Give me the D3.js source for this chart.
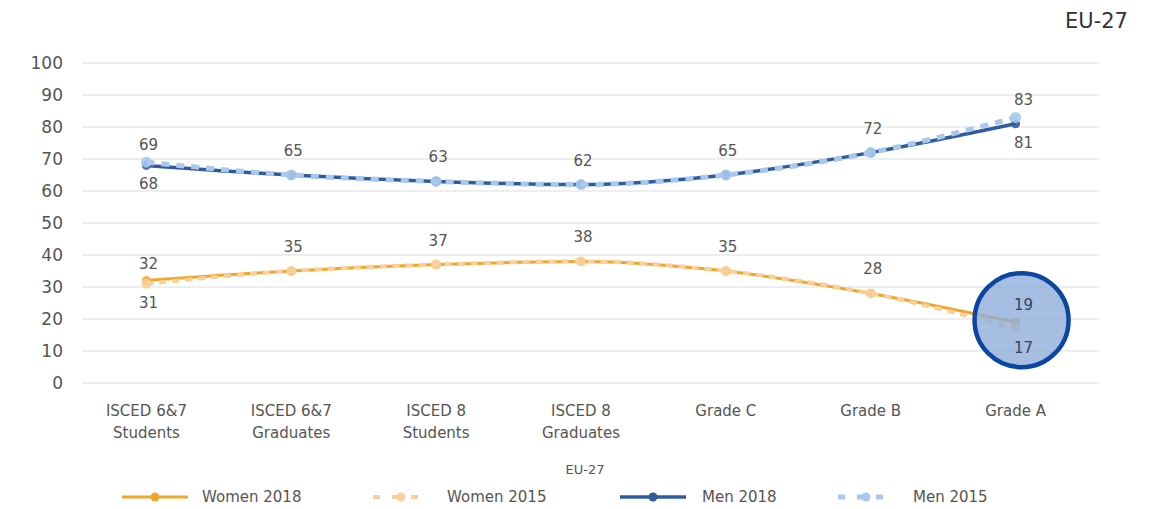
<!DOCTYPE html>
<html>
<head>
<meta charset="utf-8">
<script src="https://cdn.jsdelivr.net/npm/d3@7"></script>
<style>
  body { margin: 0; background: #fff; }
  svg { font-family: "DejaVu Sans", "Open Sans", sans-serif; }
</style>
</head>
<body>
<svg id="chart" width="1155" height="509"></svg>
<script>
// categories and series values (percent)
var categories = [
  ["ISCED 6&7", "Students"],
  ["ISCED 6&7", "Graduates"],
  ["ISCED 8", "Students"],
  ["ISCED 8", "Graduates"],
  ["Grade C"],
  ["Grade B"],
  ["Grade A"]
];
var women2018 = [32, 35, 37, 38, 35, 28, 19];
var women2015 = [31, 35, 37, 38, 35, 28, 17];
var men2018   = [68, 65, 63, 62, 65, 72, 81];
var men2015   = [69, 65, 63, 62, 65, 72, 83];
var yTicks = [0, 10, 20, 30, 40, 50, 60, 70, 80, 90, 100];
var seriesNames = ["Women 2018", "Women 2015", "Men 2018", "Men 2015"];

var svg = d3.select('#chart');
var plotL = 74, plotR = 1088, plotT = 63, plotB = 383;

var x = d3.scaleBand()
    .domain(d3.range(categories.length))
    .range([plotL, plotR]);

var y = d3.scaleLinear()
    .domain([0, 100])
    .range([plotB, plotT]);

// grid
svg.append('g')
    .selectAll('line')
    .data(yTicks)
    .join('line')
    .attr('x1', 82).attr('x2', 1100)
    .attr('y1', d => y(d)).attr('y2', d => y(d))
    .attr('stroke', '#e8e8e8')
    .attr('stroke-width', 1.5);

// y tick labels
svg.append('g')
    .selectAll('text')
    .data(yTicks)
    .join('text')
    .attr('x', 63)
    .attr('y', d => y(d))
    .attr('dy', '0.36em')
    .attr('text-anchor', 'end')
    .attr('font-size', 17)
    .attr('fill', '#555')
    .text(d => d);

// x labels
var xl = svg.append('g')
    .selectAll('text')
    .data(categories)
    .join('text')
    .attr('x', (d, i) => x(i) + x.bandwidth() / 2)
    .attr('y', 416)
    .attr('text-anchor', 'middle')
    .attr('font-size', 15)
    .attr('fill', '#555');
xl.selectAll('tspan')
    .data(d => d)
    .join('tspan')
    .attr('x', function () { return d3.select(this.parentNode).attr('x'); })
    .attr('dy', (d, i) => i ? 22 : 0)
    .text(d => d);

var cx = i => x(i) + x.bandwidth() / 2;
var line = d3.line().x((d, i) => cx(i)).y(d => y(d)).curve(d3.curveMonotoneX);

var styles = [
  { data: women2018, color: '#f0a72c', w: 3, dash: null, r: 4.5 },
  { data: women2015, color: '#f9d09a', w: 4, dash: '7,6', r: 5 },
  { data: men2018,   color: '#2f5c9f', w: 3.5, dash: null, r: 4.5 },
  { data: men2015,   color: '#a9c8ec', w: 5, dash: '8,7', r: 5.5 }
];

styles.forEach(s => {
  svg.append('path')
      .datum(s.data)
      .attr('d', line)
      .attr('fill', 'none')
      .attr('stroke', s.color)
      .attr('stroke-width', s.w)
      .attr('stroke-dasharray', s.dash);
  svg.append('g')
      .selectAll('circle')
      .data(s.data)
      .join('circle')
      .attr('cx', (d, i) => cx(i))
      .attr('cy', d => y(d))
      .attr('r', s.r)
      .attr('fill', s.color)
      .attr('opacity', 0.9);
});

// highlight circle on Grade A women
svg.append('circle')
    .attr('cx', cx(6) + 6)
    .attr('cy', y(19) - 2)
    .attr('r', 47)
    .attr('fill', '#8eaedb')
    .attr('fill-opacity', 0.8)
    .attr('stroke', '#0b46a0')
    .attr('stroke-width', 4.5);

// data labels: higher value above, lower below
function labels(a, b) {
  var out = [];
  a.forEach((v, i) => {
    var hi = Math.max(v, b[i]), lo = Math.min(v, b[i]);
    out.push({ i: i, v: hi, pos: hi !== lo ? 'pair' : 'above' });
    if (hi !== lo) out.push({ i: i, v: lo, pos: 'below' });
  });
  return out;
}
var lab = labels(women2018, women2015).concat(labels(men2018, men2015));
var offs = { above: -19, pair: -12, below: 24 };
svg.append('g')
    .selectAll('text')
    .data(lab)
    .join('text')
    .attr('x', d => cx(d.i) + 2 + (d.i === 6 ? 6 : 0))
    .attr('y', d => y(d.v) + offs[d.pos])
    .attr('text-anchor', 'middle')
    .attr('font-size', 15)
    .attr('fill', d => d.i === 6 && d.v < 50 ? '#34425e' : '#555')
    .text(d => d.v);

// titles
svg.append('text')
    .attr('x', 1128).attr('y', 28)
    .attr('text-anchor', 'end')
    .attr('font-size', 21)
    .attr('fill', '#333')
    .text('EU-27');

svg.append('text')
    .attr('x', 585).attr('y', 474)
    .attr('text-anchor', 'middle')
    .attr('font-size', 13)
    .attr('fill', '#555')
    .text('EU-27');

// legend
var legLine = [122, 373, 620, 838];
var legText = [202, 447, 702, 913];
var leg = svg.append('g')
    .selectAll('g')
    .data(styles)
    .join('g')
    .attr('transform', 'translate(0,497)');
leg.append('line')
    .attr('x1', (d, i) => legLine[i])
    .attr('x2', (d, i) => legLine[i] + (d.dash ? 57 : 66))
    .attr('stroke', d => d.color)
    .attr('stroke-width', d => d.w)
    .attr('stroke-dasharray', d => d.dash ? '7,12' : null);
leg.append('circle')
    .attr('cx', (d, i) => legLine[i] + (d.dash ? 28 : 33))
    .attr('r', 4.5)
    .attr('fill', d => d.color);
leg.append('text')
    .attr('x', (d, i) => legText[i])
    .attr('dy', '0.36em')
    .attr('font-size', 15)
    .attr('fill', '#555')
    .text((d, i) => seriesNames[i]);
</script>
</body>
</html>
